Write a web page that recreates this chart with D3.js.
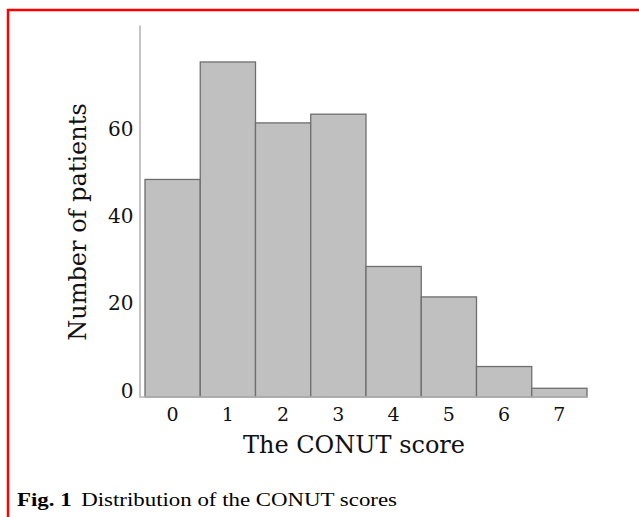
<!DOCTYPE html>
<html>
<head>
<meta charset="utf-8">
<script src="https://cdn.jsdelivr.net/npm/d3@7"></script>
<style>
  html, body { margin: 0; padding: 0; background: #ffffff; }
  svg { display: block; }
</style>
</head>
<body>
<svg id="chart" width="639" height="517"></svg>
<script>
// ---- data ----
const scores = ["0", "1", "2", "3", "4", "5", "6", "7"];
const patients = [50, 77, 63, 65, 30, 23, 7, 2];
const yTicks = [0, 20, 40, 60];
const xTitle = "The CONUT score";
const yTitle = "Number of patients";
const captionBold = "Fig. 1";
const captionText = "Distribution of the CONUT scores";

// ---- drawing ----
const svg = d3.select("#chart");
const serif = "'DejaVu Serif', serif";

// red frame
svg.append("rect")
  .attr("x", 8).attr("y", 10)
  .attr("width", 700).attr("height", 700)
  .attr("fill", "none").attr("stroke", "#ff0000").attr("stroke-width", 2.5);

const x = d3.scaleBand().domain(scores).range([145, 587]).padding(0);
const y = d3.scaleLinear().domain([0, 85.5]).range([397, 25]);

// bars
svg.append("g").selectAll("rect")
  .data(patients)
  .join("rect")
  .attr("x", (d, i) => x(scores[i]))
  .attr("y", d => y(d))
  .attr("width", x.bandwidth())
  .attr("height", d => y(0) - y(d))
  .attr("fill", "#c0c0c0")
  .attr("stroke", "#6e6e6e")
  .attr("stroke-width", 1.3);

// x baseline
svg.append("line")
  .attr("x1", 139).attr("x2", 588)
  .attr("y1", y(0)).attr("y2", y(0))
  .attr("stroke", "#b4b4b4").attr("stroke-width", 1.5);

// y axis
const yAxis = svg.append("g")
  .attr("transform", "translate(139.5,0)")
  .call(d3.axisLeft(y).tickValues(yTicks).tickSize(0).tickPadding(6).tickFormat(d3.format("d")));
yAxis.select(".domain").attr("stroke", "#c4c4c4").attr("stroke-width", 2);
yAxis.selectAll("text")
  .attr("dy", "0")
  .attr("font-family", serif).attr("font-size", 20).attr("fill", "#111");

// x axis labels
const xAxis = svg.append("g")
  .attr("transform", `translate(0,${y(0)})`)
  .call(d3.axisBottom(x).tickSize(0).tickPadding(11));
xAxis.select(".domain").remove();
xAxis.selectAll("text")
  .attr("dy", "0.71em")
  .attr("font-family", serif).attr("font-size", 19).attr("fill", "#111");

// axis titles
svg.append("text")
  .attr("x", 354).attr("y", 453)
  .attr("text-anchor", "middle")
  .attr("font-family", serif).attr("font-size", 24).attr("fill", "#111")
  .text(xTitle);

svg.append("text")
  .attr("transform", "translate(86,222) rotate(-90)")
  .attr("text-anchor", "middle")
  .attr("font-family", serif).attr("font-size", 24).attr("fill", "#111")
  .text(yTitle);

// caption
const cap = svg.append("text")
  .attr("x", 17).attr("y", 506)
  .attr("font-family", "'Liberation Serif', 'Times New Roman', serif")
  .attr("font-size", 19).attr("fill", "#000")
  .attr("textLength", 380).attr("lengthAdjust", "spacingAndGlyphs");
cap.append("tspan").attr("font-weight", "bold").text(captionBold);
cap.append("tspan").attr("dx", 8).text(captionText);
</script>
</body>
</html>
